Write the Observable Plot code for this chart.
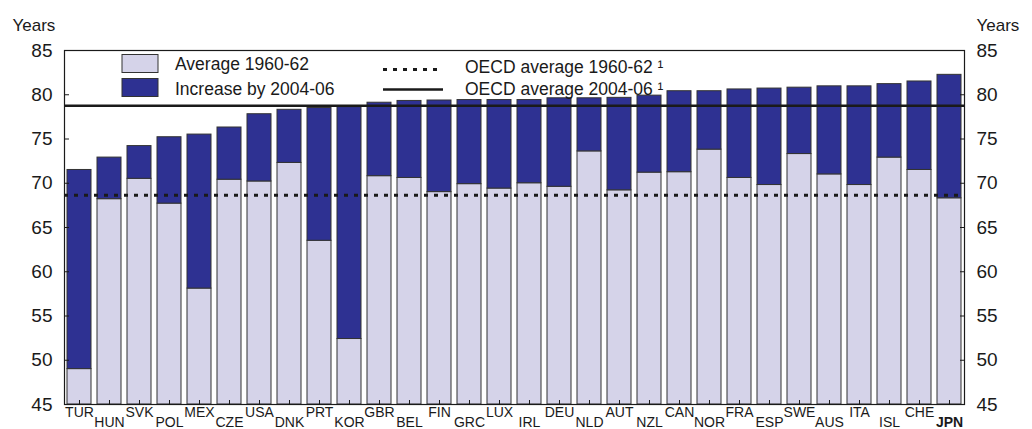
<!DOCTYPE html>
<html><head><meta charset="utf-8">
<script src="https://cdn.jsdelivr.net/npm/d3@7"></script>
<script src="https://cdn.jsdelivr.net/npm/@observablehq/plot@0.6"></script>
<style>
body{margin:0;background:#fff;}
#chart{width:1032px;height:429px;overflow:hidden;}
</style>
</head><body><div id="chart"></div>
<script>
// Data
const countries = ["TUR","HUN","SVK","POL","MEX","CZE","USA","DNK","PRT","KOR","GBR","BEL","FIN","GRC","LUX","IRL","DEU","NLD","AUT","NZL","CAN","NOR","FRA","ESP","SWE","AUS","ITA","ISL","CHE","JPN"];
const avg1960 = [49.0,68.2,70.5,67.7,58.1,70.4,70.2,72.3,63.5,52.4,70.8,70.6,69.0,69.9,69.4,70.0,69.6,73.6,69.2,71.2,71.25,73.8,70.6,69.8,73.3,71.0,69.8,72.9,71.5,68.3];
const avg2005 = [71.5,72.9,74.2,75.2,75.5,76.3,77.8,78.3,78.5,78.6,79.1,79.3,79.35,79.4,79.4,79.4,79.6,79.6,79.65,79.9,80.4,80.4,80.6,80.7,80.8,80.95,80.95,81.2,81.5,82.25];
const oecd1960 = [68.65];
const oecd2005 = [78.75];
const yTicks = [45,50,55,60,65,70,75,80,85];
const highlight = "JPN";
const seriesLabels = ["Average 1960-62","Increase by 2004-06"];
const lineLabels = ["OECD average 1960-62 \u00b9","OECD average 2004-06 \u00b9"];
const unitLabel = "Years";

const light = "#d5d3e9";
const dark = "#2e3192";
const ink = "#1a1a1a";
const font = "'Liberation Sans', Arial, Helvetica, sans-serif";

const base = 45;
const data = countries.map((c, i) => ({country: c, base, v1960: avg1960[i], v2005: avg2005[i]}));
const evenC = countries.filter((c, i) => i % 2 === 0 && c !== highlight);
const oddC = countries.filter((c, i) => i % 2 === 1 && c !== highlight);
const hiIdx = countries.indexOf(highlight);

const plot = Plot.plot({
  width: 1032, height: 429,
  marginLeft: 64, marginRight: 68, marginTop: 50, marginBottom: 25,
  style: {fontFamily: font, background: "white", color: ink, overflow: "visible"},
  x: {domain: countries, paddingInner: 0.2, paddingOuter: 0.1},
  y: {domain: [45, 85]},
  marks: [
    Plot.barY(data, {x: "country", y1: "base", y2: "v1960", fill: light, stroke: "#333", strokeWidth: 1}),
    Plot.barY(data, {x: "country", y1: "v1960", y2: "v2005", fill: dark, stroke: "#333", strokeWidth: 1}),
    Plot.ruleY(oecd1960, {stroke: ink, strokeWidth: 3, strokeDasharray: "4,6"}),
    Plot.ruleY(oecd2005, {stroke: ink, strokeWidth: 2.6}),
    Plot.frame({stroke: ink, strokeWidth: 1.2}),
    Plot.axisY(yTicks, {anchor: "left", tickSize: -5, tickPadding: 17, fontSize: 19, label: null}),
    Plot.axisY(yTicks, {anchor: "right", tickSize: -5, tickPadding: 17, fontSize: 19, label: null}),
    Plot.axisX(evenC, {tickSize: -4, tickPadding: 7, fontSize: 14, label: null}),
    Plot.axisX(oddC, {tickSize: -4, tickPadding: 17, fontSize: 14, label: null}),
    Plot.axisX([highlight], {tickSize: -4, tickPadding: hiIdx % 2 ? 17 : 7, fontSize: 14, fontWeight: "bold", label: null}),
    Plot.text([unitLabel], {frameAnchor: "top-left", dx: -52, dy: -20, textAnchor: "start", lineAnchor: "bottom", fontSize: 17}),
    Plot.text([unitLabel], {frameAnchor: "top-right", dx: 12, dy: -20, textAnchor: "start", lineAnchor: "bottom", fontSize: 17})
  ]
});

// Legend inside the plot area
const svg = d3.select(plot);
const lg = svg.append("g").attr("font-family", font).attr("font-size", 17.5)
  .attr("fill", ink).attr("text-anchor", "start");
[light, dark].forEach((col, i) => {
  lg.append("rect").attr("x", 122).attr("y", 54.5 + i * 24).attr("width", 36).attr("height", 18)
    .attr("fill", col).attr("stroke", "#333").attr("stroke-width", 1);
  lg.append("text").attr("x", 175).attr("y", 70 + i * 24.5).text(seriesLabels[i]);
});
lg.append("line").attr("x1", 383).attr("x2", 443).attr("y1", 69.5).attr("y2", 69.5)
  .attr("stroke", ink).attr("stroke-width", 3).attr("stroke-dasharray", "4,6");
lg.append("line").attr("x1", 383).attr("x2", 443).attr("y1", 89.5).attr("y2", 89.5)
  .attr("stroke", ink).attr("stroke-width", 2.6);
lineLabels.forEach((t, i) => {
  lg.append("text").attr("x", 465).attr("y", 72.5 + i * 22).text(t);
});

document.getElementById("chart").appendChild(plot);
</script>
</body></html>
